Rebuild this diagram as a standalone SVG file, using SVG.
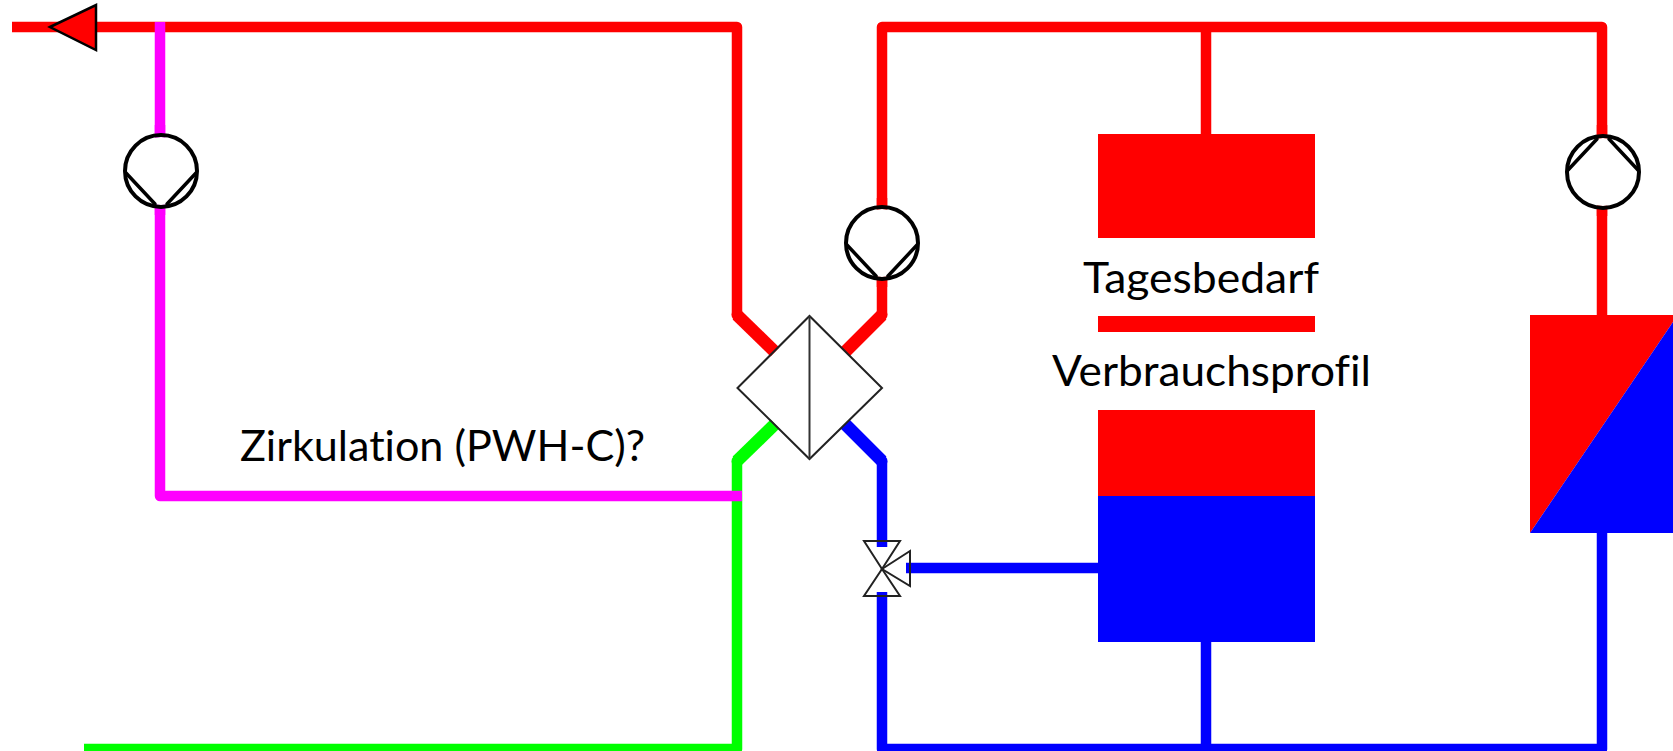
<svg xmlns="http://www.w3.org/2000/svg" width="1673" height="751" viewBox="0 0 1673 751">
<style>
.pipe{fill:none;stroke-width:10.5;stroke-linejoin:round}
.diag{fill:none;stroke-width:12.5}
.r{stroke:#f00}.m{stroke:#f0f}.g{stroke:#0f0}.b{stroke:#00f}
.circle{fill:none;stroke:#000;stroke-width:4}
.chord{fill:none;stroke:#000;stroke-width:3.5;stroke-linecap:round}
.thin{fill:none;stroke:#222;stroke-width:2}
.label{font-family:Lato,"Open Sans",sans-serif;font-size:42px;fill:#000;font-variant-ligatures:none}
</style>
<defs>
<g id="pump-symbol">
<circle class="circle" r="36"/>
<path class="chord" d="M-35,2 L-6,33 M35,2 L6,33"/>
</g>
</defs>
<rect width="1673" height="751" fill="#fff"/>
<g id="connectors">
<path class="pipe r" d="M12,27 H737 V315"/>
<path class="diag r" d="M737,315 L775,352" stroke-linecap="butt"/>
<circle cx="737" cy="315" r="5.5" fill="#f00"/>
<path class="pipe g" d="M84,749 H737 V461"/>
<path class="diag g" d="M737,461 L775,424"/>
<circle cx="737" cy="461" r="5.5" fill="#0f0"/>
<path class="pipe m" d="M160,22 V496 H742"/>
<path class="pipe r" d="M882,315 V27 H1602 V316"/>
<path class="diag r" d="M845,352 L882,315"/>
<circle cx="882" cy="315" r="5.5" fill="#f00"/>
<path class="pipe r" d="M1206,27 V135"/>
<path class="pipe b" d="M882,461 V547"/>
<path class="diag b" d="M845,424 L882,461"/>
<circle cx="882" cy="461" r="5.5" fill="#00f"/>
<path class="pipe b" d="M882,592 V749 H1602 V532"/>
<path class="pipe b" d="M1206,641 V749"/>
<path class="pipe b" d="M906,568 H1098"/>
</g>
<g id="tank">
<rect x="1098" y="134" width="217" height="362" fill="#f00"/>
<rect x="1098" y="496" width="217" height="146" fill="#00f"/>
</g>
<g id="arrow">
<polygon points="50,27 96,5 96,50" fill="#f00" stroke="#000" stroke-width="2.5"/>
</g>
<g id="pump-left">
<circle cx="161" cy="171" r="34" fill="#fff"/>
<path class="pipe m" d="M160,125 V137"/><path class="pipe m" d="M160,205 V215"/>
<use href="#pump-symbol" x="161" y="171"/>
</g>
<g id="pump-middle">
<circle cx="882" cy="243" r="34" fill="#fff"/>
<path class="pipe r" d="M882,198 V209"/><path class="pipe r" d="M882,277 V287"/>
<use href="#pump-symbol" x="882" y="243"/>
</g>
<g id="pump-right">
<circle cx="1603" cy="172" r="34" fill="#fff"/>
<path class="pipe r" d="M1602,125 V138"/><path class="pipe r" d="M1602,206 V216"/>
<use href="#pump-symbol" transform="translate(1603,172) scale(1,-1)"/>
</g>
<g id="heat-exchanger">
<polygon class="thin" points="737.5,388 809.5,316 882,388 809.5,459"/>
<line x1="809.5" y1="316" x2="809.5" y2="459" stroke="#333" stroke-width="2"/>
</g>
<g id="valve">
<polygon class="thin" points="864,541 900,541 882,569"/>
<polygon class="thin" points="864,596 900,596 882,569"/>
<polygon class="thin" points="882,569 910,551 910,586"/>
</g>
<g id="storage">
<polygon points="1530,315 1673,315 1673,322 1530,533" fill="#f00"/>
<polygon points="1530,533 1673,322 1673,533" fill="#00f"/>
</g>
<g id="label-tagesbedarf">
<rect x="1080" y="238" width="245" height="78" fill="#fff"/>
<text class="label" x="1083" y="293" textLength="236" lengthAdjust="spacingAndGlyphs">Tagesbedarf</text>
</g>
<g id="label-verbrauchsprofil">
<rect x="1050" y="332" width="325" height="78" fill="#fff"/>
<text class="label" x="1052" y="386" textLength="319" lengthAdjust="spacingAndGlyphs">Verbrauchsprofil</text>
</g>
<g id="label-zirkulation">
<text class="label" x="240" y="461" textLength="405" lengthAdjust="spacingAndGlyphs">Zirkulation (PWH-C)?</text>
</g>
</svg>
